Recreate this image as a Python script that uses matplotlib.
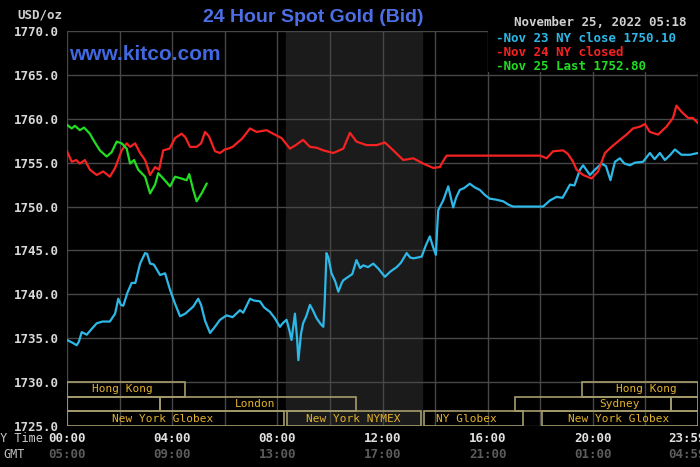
import matplotlib
matplotlib.use("Agg")
import matplotlib.pyplot as plt
from matplotlib.patches import Rectangle

# Nov 23 (blue) - hours NY time, price
nov23_hours = [0.0, 0.2, 0.37, 0.45, 0.56, 0.75, 0.95, 1.13, 1.35, 1.63, 1.83, 1.95, 2.05, 2.14, 2.3,
               2.46, 2.6, 2.78, 2.97, 3.05, 3.16, 3.3, 3.54, 3.73, 3.92, 4.1, 4.3, 4.5, 4.8, 4.99,
               5.1, 5.25, 5.44, 5.6, 5.82, 6.07, 6.3, 6.58, 6.7, 6.96, 7.1, 7.34, 7.5, 7.72, 7.9,
               8.1, 8.2, 8.35, 8.45, 8.54, 8.67, 8.75, 8.8, 8.9, 8.98, 9.1, 9.24, 9.35, 9.49, 9.65,
               9.75, 9.8, 9.87, 9.94, 10.06, 10.2, 10.32, 10.45, 10.51, 10.7, 10.85, 11.01, 11.15,
               11.27, 11.45, 11.65, 11.85, 12.09, 12.3, 12.54, 12.7, 12.92, 13.05, 13.17, 13.35,
               13.49, 13.65, 13.8, 13.9, 14.03, 14.08, 14.12, 14.31, 14.5, 14.6, 14.69, 14.8, 14.94,
               15.1, 15.32, 15.5, 15.7, 15.9, 16.08, 16.3, 16.59, 16.8, 16.97, 17.5, 18.11, 18.37,
               18.62, 18.85, 19.13, 19.3, 19.51, 19.63, 19.89, 20.08, 20.33, 20.5, 20.67, 20.84,
               21.03, 21.2, 21.41, 21.6, 21.91, 22.17, 22.35, 22.55, 22.74, 22.95, 23.12, 23.37,
               23.69, 24.0]
nov23_prices = [1734.8, 1734.5, 1734.2, 1734.6, 1735.7, 1735.4, 1736.1, 1736.7, 1736.9, 1736.9, 1737.8,
                1739.5, 1738.8, 1738.7, 1740.2, 1741.3, 1741.3, 1743.5, 1744.7, 1744.6, 1743.5, 1743.4,
                1742.2, 1742.4, 1740.5, 1739.0, 1737.5, 1737.8, 1738.6, 1739.5, 1738.8, 1737.0, 1735.6,
                1736.2, 1737.1, 1737.6, 1737.4, 1738.2, 1737.9, 1739.5, 1739.3, 1739.2, 1738.5, 1738.0,
                1737.3, 1736.3, 1736.7, 1737.1, 1736.0, 1734.8, 1737.8, 1735.0, 1732.5, 1735.5, 1736.7,
                1737.5, 1738.8, 1738.2, 1737.3, 1736.6, 1736.3, 1739.0, 1744.7, 1744.2, 1742.4, 1741.5,
                1740.3, 1741.3, 1741.6, 1742.0, 1742.3, 1743.9, 1743.0, 1743.3, 1743.1, 1743.5, 1742.9,
                1742.0, 1742.6, 1743.1, 1743.6, 1744.7, 1744.2, 1744.1, 1744.2, 1744.3, 1745.6, 1746.6,
                1745.6, 1744.5, 1747.5, 1749.6, 1750.7, 1752.3, 1751.0, 1749.9, 1751.0, 1751.9, 1752.1,
                1752.6, 1752.2, 1751.9, 1751.3, 1750.9, 1750.8, 1750.6, 1750.2, 1750.0, 1750.0, 1750.0,
                1750.7, 1751.1, 1751.0, 1752.5, 1752.4, 1754.2, 1754.7, 1753.6, 1754.2, 1754.9, 1754.6,
                1753.0, 1755.1, 1755.5, 1754.9, 1754.7, 1755.0, 1755.1, 1756.1, 1755.4, 1756.1, 1755.3,
                1755.9, 1756.5, 1755.9, 1755.9, 1756.1]

# Nov 24 (red)
nov24_hours = [0.0, 0.18, 0.35, 0.49, 0.68, 0.87, 1.13, 1.38, 1.63, 1.83, 2.08, 2.27, 2.4, 2.59, 2.78,
               2.97, 3.16, 3.35, 3.5, 3.66, 3.9, 4.11, 4.36, 4.5, 4.68, 4.93, 5.1, 5.25, 5.4, 5.63,
               5.82, 6.0, 6.13, 6.3, 6.45, 6.65, 6.96, 7.21, 7.59, 7.84, 8.16, 8.48, 8.7, 8.98, 9.24,
               9.5, 9.75, 10.13, 10.51, 10.76, 11.01, 11.39, 11.78, 12.09, 12.41, 12.79, 13.17, 13.55,
               13.93, 14.18, 14.35, 14.44, 18.0, 18.24, 18.49, 18.87, 19.05, 19.25, 19.38, 19.63,
               19.95, 20.2, 20.46, 20.71, 21.03, 21.28, 21.53, 21.79, 21.98, 22.17, 22.48, 22.8,
               23.05, 23.18, 23.37, 23.62, 23.8, 24.0]
nov24_prices = [1756.3, 1755.1, 1755.3, 1754.9, 1755.3, 1754.2, 1753.6, 1754.0, 1753.4, 1754.4, 1756.4,
                1757.2, 1756.8, 1757.2, 1756.1, 1755.3, 1753.6, 1754.5, 1754.2, 1756.4, 1756.6, 1757.8,
                1758.3, 1757.9, 1756.8, 1756.8, 1757.2, 1758.5, 1758.0, 1756.3, 1756.1, 1756.5, 1756.6,
                1756.8, 1757.2, 1757.7, 1758.9, 1758.5, 1758.7, 1758.3, 1757.8, 1756.6, 1757.0, 1757.6,
                1756.8, 1756.7, 1756.4, 1756.1, 1756.6, 1758.4, 1757.4, 1757.0, 1757.0, 1757.3, 1756.4,
                1755.3, 1755.5, 1754.9, 1754.4, 1754.5, 1755.4, 1755.8, 1755.8, 1755.5, 1756.3, 1756.4,
                1756.0, 1755.1, 1754.2, 1753.6, 1753.2, 1754.0, 1756.1, 1756.8, 1757.6, 1758.2, 1758.9,
                1759.1, 1759.4, 1758.5, 1758.2, 1759.1, 1760.1, 1761.5, 1760.8, 1760.1, 1760.1, 1759.5]

# Nov 25 (green)
nov25_hours = [0.0, 0.18, 0.3, 0.49, 0.65, 0.87, 1.0, 1.25, 1.51, 1.7, 1.89, 2.08, 2.27, 2.4, 2.55,
               2.71, 2.97, 3.16, 3.35, 3.47, 3.66, 3.92, 4.11, 4.35, 4.55, 4.65, 4.8, 4.93, 5.12, 5.31]
nov25_prices = [1759.3, 1758.9, 1759.2, 1758.7, 1759.0, 1758.3, 1757.6, 1756.4, 1755.7, 1756.2, 1757.4,
                1757.2, 1756.6, 1754.9, 1755.3, 1754.2, 1753.4, 1751.5, 1752.5, 1753.8, 1753.2, 1752.3,
                1753.4, 1753.2, 1753.0, 1753.7, 1751.9, 1750.6, 1751.5, 1752.6]

y_ticks = [1725, 1730, 1735, 1740, 1745, 1750, 1755, 1760, 1765, 1770]
ny_hours = [0, 4, 8, 12, 16, 20, 23.6]
ny_labels = ["00:00", "04:00", "08:00", "12:00", "16:00", "20:00", "23:59"]
gmt_labels = ["05:00", "09:00", "13:00", "17:00", "21:00", "01:00", "04:59"]

legend_lines = ["-Nov 23 NY close 1750.10", "-Nov 24 NY closed", "-Nov 25 Last 1752.80"]

# trading sessions: (row, start, end, label, label position)
sessions = [
    (0, 0.0, 4.49, "Hong Kong", 2.1),
    (0, 19.57, 24.0, "Hong Kong", 22.05),
    (1, 0.0, 3.53, "", 0),
    (1, 3.53, 11.0, "London", 7.15),
    (1, 17.03, 22.99, "Sydney", 21.0),
    (1, 22.99, 24.0, "", 0),
    (2, 0.0, 8.25, "New York Globex", 3.63),
    (2, 8.35, 13.48, "New York NYMEX", 10.9),
    (2, 13.59, 17.35, "NY Globex", 15.2),
    (2, 18.07, 24.0, "New York Globex", 21.0),
]
nymex_start, nymex_end = 8.33, 13.5

BLUE = "#2db8e8"
RED = "#f52222"
GREEN = "#22dd22"
GRID = "#474747"
MONO = "DejaVu Sans Mono"

fig = plt.figure(figsize=(7, 4.67), dpi=100, facecolor="black")
ax = fig.add_axes([67 / 700, 1 - 426 / 467, 631 / 700, 395 / 467])
ax.set_facecolor("black")
ax.set_xlim(0, 24)
ax.set_ylim(1725, 1770)
for s in ax.spines.values():
    s.set_visible(False)

ax.axvspan(nymex_start, nymex_end, color="#1b1b1b", zorder=0)

ax.set_xticks(range(0, 25, 2))
ax.set_yticks(y_ticks)
ax.grid(True, color=GRID, linewidth=1.0, zorder=1)
ax.set_axisbelow(True)
ax.tick_params(length=0, labelbottom=False, colors="#d8d8d8", pad=6)
ax.set_yticklabels([f"{v:.1f}" for v in y_ticks], family=MONO, fontweight="bold", fontsize=9)

ax.plot(nov23_hours, nov23_prices, color=BLUE, lw=1.6, zorder=4)
ax.plot(nov24_hours, nov24_prices, color=RED, lw=1.6, zorder=4)
ax.plot(nov25_hours, nov25_prices, color=GREEN, lw=1.6, zorder=5)

# session boxes
row_h = 5 / 3
for row, a, b, name, lx in sessions:
    y0 = 1730 - (row + 1) * row_h
    ax.add_patch(Rectangle((a, y0), b - a, row_h, fill=False, edgecolor="#a59c6c", lw=1.2, zorder=3))
    if name:
        ax.text(lx, y0 + row_h / 2, name, ha="center", va="center", color="#e3b22c",
                family=MONO, fontsize=8, zorder=3)

# legend box
ax.add_patch(Rectangle((16.02, 1765.3), 8, 4.7, facecolor="black", edgecolor="none", zorder=2))
for i, (txt, c) in enumerate(zip(legend_lines, [BLUE, RED, GREEN])):
    fig.text(496 / 700, 1 - (39 + 14 * i) / 467, txt, color=c, family=MONO, fontweight="bold",
             fontsize=9, ha="left", va="center")
fig.text(687 / 700, 1 - 22.5 / 467, "November 25, 2022 05:18", color="#d0d0d0", family=MONO,
         fontweight="bold", fontsize=9, ha="right", va="center")

# titles
fig.text(313 / 700, 1 - 17 / 467, "24 Hour Spot Gold (Bid)", color="#4d6fe6",
         family="Liberation Sans", fontweight="bold", fontsize=14, ha="center", va="center")
fig.text(69 / 700, 1 - 55 / 467, "www.kitco.com", color="#4268e0", family="Liberation Sans",
         fontweight="bold", fontsize=15, ha="left", va="center")
fig.text(62 / 700, 1 - 15 / 467, "USD/oz", color="#d0d0d0", family=MONO, fontweight="bold",
         fontsize=9, ha="right", va="center")

# x labels
for h, ny, gmt in zip(ny_hours, ny_labels, gmt_labels):
    ax.annotate(ny, (h, 0), xycoords=("data", "axes fraction"), xytext=(0, -9),
                textcoords="offset points", ha="center", va="center", color="#e0e0e0",
                family=MONO, fontweight="bold", fontsize=9, annotation_clip=False)
    ax.annotate(gmt, (h, 0), xycoords=("data", "axes fraction"), xytext=(0, -20.5),
                textcoords="offset points", ha="center", va="center", color="#5c5c5c",
                family=MONO, fontweight="bold", fontsize=9, annotation_clip=False)
fig.text(43 / 700, 1 - 439 / 467, "NY Time", color="#c8c8c8", family=MONO, fontsize=8.5,
         ha="right", va="center")
fig.text(25 / 700, 1 - 455 / 467, "GMT", color="#c0c0c0", family=MONO, fontsize=8.5,
         ha="right", va="center")

fig.savefig("out.png", dpi=100, facecolor="black")
